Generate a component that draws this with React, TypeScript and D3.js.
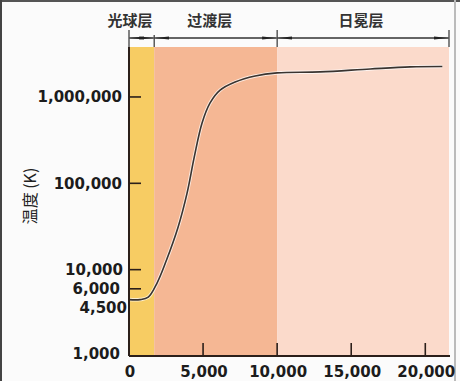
import React from "react";
import * as d3 from "d3";

const regionNames = ["光球层", "过渡层", "日冕层"];
const regionBounds = [0, 1700, 10000, 21600];
const regionColors = ["#f7cc63", "#f5b794", "#fbdacb"];

const tempX = [0, 743, 1300, 1892, 2500, 3311, 3919, 4400, 4932, 5473, 6149, 7162, 8514, 10000, 12905, 16284, 18986, 21149];
const tempY = [4500, 4500, 4800, 7000, 12500, 31000, 77000, 200000, 500000, 853000, 1200000, 1490000, 1750000, 1900000, 1950000, 2110000, 2230000, 2250000];

const yTickLabels = [1000, 4500, 6000, 10000, 100000, 1000000];
const yTickMarks = [6000, 10000, 100000, 1000000];
const xTicks = [0, 5000, 10000, 15000, 20000];

export default function App() {
  const W = 460, H = 381;
  const x = d3.scaleLinear().domain([0, 21600]).range([129, 449]);
  const y = d3.scaleLog().domain([1000, 3.79e6]).range([356, 47]);
  const fmt = d3.format(",");
  const pts = tempX.map((v, i) => [v, tempY[i]] as [number, number]);
  const line = d3.line<[number, number]>().x(d => x(d[0])).y(d => y(d[1])).curve(d3.curveCatmullRom.alpha(0.5));
  const d = line(pts) || "";
  const axisColor = "#2b1f1a";
  const font = "'DejaVu Sans', sans-serif";
  const labelDy: Record<number, number> = { 4500: 8, 1000: -2 };
  const labelDx: Record<number, number> = { 4500: 5, 10000: 1, 1000: -2, 6000: -2 };
  const headerCenters = [x(0) + 1, (x(1700) + x(10000)) / 2 - 6, (x(10000) + x(21600)) / 2 - 2];
  return (
    <svg width={W} height={H} style={{ position: "absolute", left: 0, top: 0, background: "#fbfbfb" }}>
      <defs>
        <marker id="ah" viewBox="0 0 14 6" refX="14" refY="3" markerWidth="14" markerHeight="6" markerUnits="userSpaceOnUse" orient="auto-start-reverse">
          <path d="M0,1.5 L14,3 L0,4.5 Z" fill="#222" />
        </marker>
      </defs>
      <rect x={0} y={0} width={W} height={H} fill="#fbfbfb" />
      <line x1={0} y1={1} x2={W} y2={1} stroke="#555" strokeWidth={2} />
      <line x1={1} y1={0} x2={1} y2={H} stroke="#444" strokeWidth={2} />
      <line x1={455} y1={0} x2={455} y2={H} stroke="#bbb" strokeWidth={2} />
      {regionNames.map((n, i) => (
        <rect key={n} x={x(regionBounds[i])} y={47} width={x(regionBounds[i + 1]) - x(regionBounds[i])} height={356 - 47} fill={regionColors[i]} />
      ))}
      <line x1={x(0)} y1={38} x2={x(21600)} y2={38} stroke="#333" strokeWidth={1} />
      {regionNames.map((n, i) => (
        <line key={"a" + n} x1={x(regionBounds[i]) + 1} y1={38} x2={x(regionBounds[i + 1]) - 1} y2={38} stroke="#333" strokeWidth={1} markerStart="url(#ah)" markerEnd="url(#ah)" />
      ))}
      {regionBounds.map((b, i) => (
        <line key={"v" + i} x1={x(b)} y1={i === 1 ? 35 : 30} x2={x(b)} y2={47} stroke="#333" strokeWidth={1.2} />
      ))}
      {regionNames.map((n, i) => (
        <text key={"t" + n} x={headerCenters[i]} y={26} textAnchor="middle" fontSize={15} fontWeight="bold" fill="#333" fontFamily="'Noto Sans CJK SC', sans-serif">{n}</text>
      ))}
      <path d={d} fill="none" stroke="#ffffff" strokeOpacity={0.7} strokeWidth={3.5} />
      <path d={d} fill="none" stroke="#3a3430" strokeWidth={1.6} />
      <line x1={x(0)} y1={47} x2={x(0)} y2={356} stroke={axisColor} strokeWidth={2} />
      <line x1={x(0)} y1={356} x2={450} y2={356} stroke={axisColor} strokeWidth={2} />
      {yTickMarks.map(t => (
        <line key={"ym" + t} x1={x(0)} x2={x(0) + 12} y1={y(t)} y2={y(t)} stroke={axisColor} strokeWidth={1.6} />
      ))}
      {yTickLabels.map(t => (
        <text key={"yl" + t} x={122 + (labelDx[t] || 0)} y={y(t) + (labelDy[t] || 0)} dy="0.36em" textAnchor="end" fontSize={15} fontWeight="bold" fill="#1c1c1c" fontFamily={font}>{fmt(t)}</text>
      ))}
      {xTicks.filter(t => t > 0).map(t => (
        <line key={"xm" + t} x1={x(t)} x2={x(t)} y1={356} y2={343} stroke={axisColor} strokeWidth={1.6} />
      ))}
      {xTicks.map(t => (
        <text key={"xl" + t} x={x(t) + 1} y={372} dy="0.36em" textAnchor="middle" fontSize={15} fontWeight="bold" fill="#1c1c1c" fontFamily={font}>{fmt(t)}</text>
      ))}
      <text transform="translate(30,196) rotate(-90)" textAnchor="middle" dy="0.35em" fontSize={16} fill="#222" fontFamily="'Noto Sans CJK SC', sans-serif">温度 (K)</text>
    </svg>
  );
}
